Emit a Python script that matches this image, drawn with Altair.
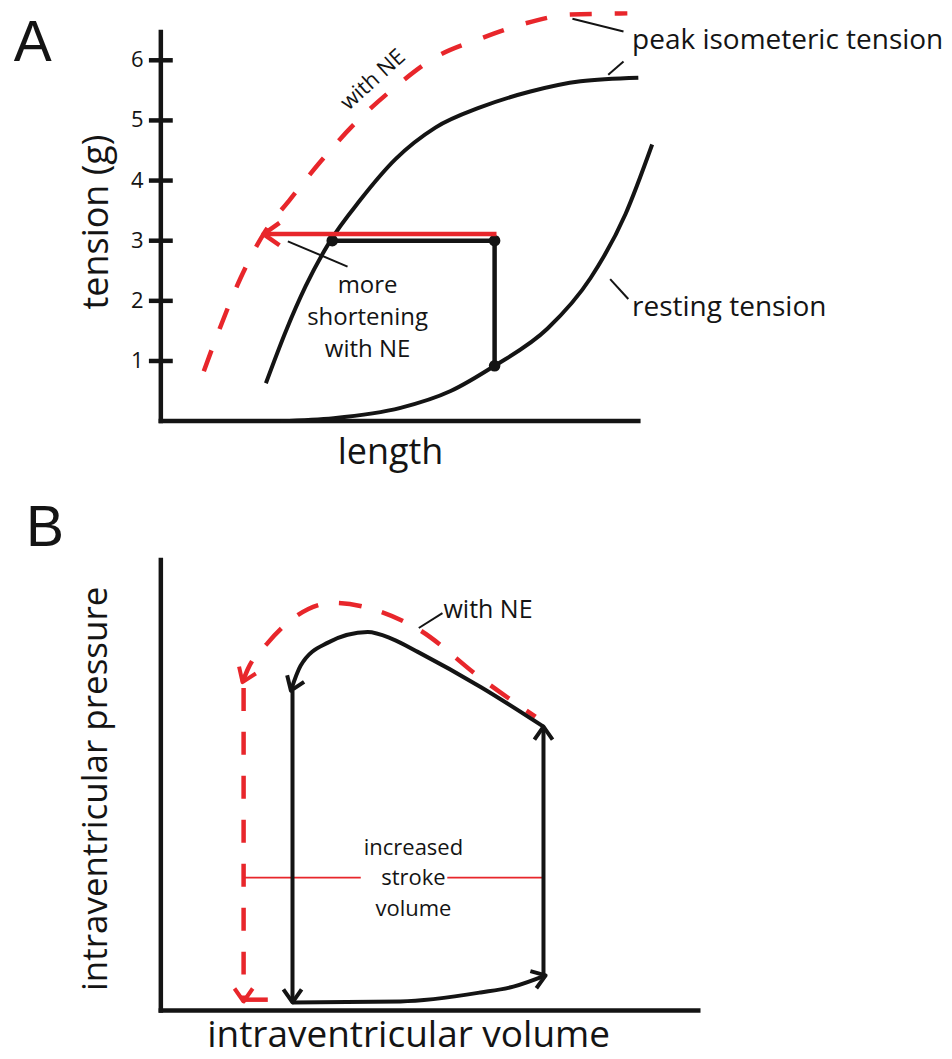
import math
import altair as alt
import pandas as pd

FONT = "Open Sans"
LETTER_FONT = "Liberation Sans"
INK = "#141414"
RED = "#e8262b"

# ---------------- Panel A : length-tension ----------------
A_TICKS = [1, 2, 3, 4, 5, 6]
A_TICK_LABELS = ["1", "2", "3", "4", "5", "6"]

A_ACTIVE_X = [2.20, 2.62, 3.03, 3.52, 4.18, 4.92, 5.75, 6.70, 7.74, 8.79, 10.00]
A_ACTIVE_Y = [0.63, 1.50, 2.24, 2.96, 3.68, 4.36, 4.88, 5.22, 5.48, 5.65, 5.71]

A_NE_X = [0.90, 1.19, 1.67, 2.15, 2.72, 3.35, 4.04, 4.87, 5.71, 6.69, 7.53, 8.58, 9.77]
A_NE_Y = [0.83, 1.45, 2.38, 3.11, 3.70, 4.32, 4.93, 5.53, 6.03, 6.36, 6.59, 6.76, 6.78]

A_REST_X = [2.51, 3.62, 5.02, 6.07, 6.99, 8.10, 9.00, 9.73, 10.29]
A_REST_Y = [0.00, 0.05, 0.22, 0.50, 0.92, 1.54, 2.38, 3.44, 4.60]

A_CONTRACT_X = [3.59, 6.99, 6.99]
A_CONTRACT_Y = [3.00, 3.00, 0.92]

A_SHORT_NE_X = [7.03, 2.15]
A_SHORT_NE_Y = [3.11, 3.11]

A_LEADERS = [  # (x, y, x2, y2)
    (2.66, 2.99, 3.91, 2.57),
    (8.62, 6.69, 9.69, 6.48),
    (9.37, 5.76, 9.69, 5.98),
    (9.41, 2.36, 9.79, 2.03),
]

# ---------------- Panel B : pressure-volume loop ----------------
B_TOP_X = [7.12, 5.95, 4.78, 4.30, 3.85, 3.10, 2.60, 2.42]
B_TOP_Y = [6.30, 7.18, 7.96, 8.25, 8.40, 8.16, 7.65, 7.10]
B_LEFT_X = [2.45, 2.45]
B_LEFT_Y = [7.10, 0.18]
B_BOTTOM_X = [2.45, 4.46, 5.95, 6.56, 7.16]
B_BOTTOM_Y = [0.18, 0.20, 0.40, 0.53, 0.78]
B_RIGHT_X = [7.12, 7.12]
B_RIGHT_Y = [0.78, 6.30]

B_NE_ARC_X = [6.97, 5.95, 4.78, 3.85, 3.22, 2.47, 1.99, 1.62, 1.52]
B_NE_ARC_Y = [6.52, 7.38, 8.47, 8.94, 9.05, 8.71, 8.16, 7.58, 7.29]
B_NE_LEFT_X = [1.54, 1.54]
B_NE_LEFT_Y = [7.16, 0.20]
B_NE_BOTTOM_X = [1.54, 1.99]
B_NE_BOTTOM_Y = [0.24, 0.24]

B_SV_LINES = [(1.54, 2.95, 3.72, 2.95), (5.33, 2.95, 7.12, 2.95)]
B_LEADERS = [(4.80, 8.49, 5.24, 8.82)]

# ---------------- layout (not data) ----------------
A_XDOM, A_YDOM, A_W, A_H = [0, 10], [0, 6.86], 478, 413
A_YAXIS_TOP = 6.47
B_XDOM, B_YDOM, B_W, B_H = [0, 10], [0, 10], 538, 451

CHEVRON = "M -1 -0.7 L 0 0 L -1 0.7"


def enc(xdom, ydom):
    return dict(
        x=alt.X("x:Q", scale=alt.Scale(domain=xdom, nice=False, zero=False), axis=None),
        y=alt.Y("y:Q", scale=alt.Scale(domain=ydom, nice=False, zero=False), axis=None),
    )


def curve(xs, ys, dom, color, width, dash=None, interp="linear", cap="butt"):
    df = pd.DataFrame({"x": xs, "y": ys, "i": list(range(len(xs)))})
    kw = dict(color=color, strokeWidth=width, interpolate=interp, strokeCap=cap, strokeJoin="round")
    if dash:
        kw["strokeDash"] = dash
    # monotone curves are drawn in ascending x; straight polylines keep their own order
    order = alt.Order("x:Q") if interp == "monotone" else alt.Order("i:Q")
    return alt.Chart(df).mark_line(**kw).encode(**enc(*dom), order=order)


def rules(segs, dom, color, width, cap="butt"):
    df = pd.DataFrame(segs, columns=["x", "y", "x2", "y2"])
    return alt.Chart(df).mark_rule(color=color, strokeWidth=width, strokeCap=cap).encode(
        **enc(*dom), x2="x2:Q", y2="y2:Q"
    )


def heads(paths, dom, size_px, color, width):
    xdom, ydom, W, H = dom
    kx = W / (xdom[1] - xdom[0])
    ky = H / (ydom[1] - ydom[0])
    rows = []
    for xs, ys in paths:
        dx = (xs[-1] - xs[-2]) * kx
        dy = -(ys[-1] - ys[-2]) * ky
        rows.append({"x": xs[-1], "y": ys[-1], "a": math.degrees(math.atan2(dy, dx)) % 360})
    df = pd.DataFrame(rows)
    return alt.Chart(df).mark_point(
        shape=CHEVRON, filled=False, stroke=color, strokeWidth=width,
        size=(2 * size_px) ** 2, opacity=1, strokeJoin="round", strokeCap="butt",
    ).encode(**enc(xdom, ydom), angle=alt.Angle("a:Q", scale=None))


def texts(items, dom, size, align="center", baseline="alphabetic", angle=0, color=INK, font=FONT):
    df = pd.DataFrame(items, columns=["x", "y", "t"])
    kw = dict(font=font, fontSize=size, align=align, baseline=baseline, color=color)
    if angle:
        kw["angle"] = angle
    return alt.Chart(df).mark_text(**kw).encode(**enc(*dom), text="t:N")


# ---------------- Panel A ----------------
dA = (A_XDOM, A_YDOM)
panelA = alt.layer(
    rules([(0, 0, 0, A_YAXIS_TOP), (0, 0, A_XDOM[1], 0)], dA, INK, 4.5, cap="square"),
    rules([(-0.25, t, 0.25, t) for t in A_TICKS], dA, INK, 4.5),
    texts([(-0.36, t, l) for t, l in zip(A_TICKS, A_TICK_LABELS)], dA, 22, align="right", baseline="middle"),
    curve(A_REST_X, A_REST_Y, dA, INK, 4, interp="monotone"),
    curve(A_ACTIVE_X, A_ACTIVE_Y, dA, INK, 4, interp="monotone"),
    curve(A_NE_X, A_NE_Y, dA, RED, 4.5, dash=[22, 23], interp="monotone"),
    curve(A_CONTRACT_X, A_CONTRACT_Y, dA, INK, 4.5),
    alt.Chart(pd.DataFrame({"x": A_CONTRACT_X, "y": A_CONTRACT_Y}))
    .mark_circle(size=135, color=INK, opacity=1).encode(**enc(*dA)),
    curve(A_SHORT_NE_X, A_SHORT_NE_Y, dA, RED, 4.5),
    heads([(A_SHORT_NE_X, A_SHORT_NE_Y)], (A_XDOM, A_YDOM, A_W, A_H), 16, RED, 4.5),
    rules(A_LEADERS, dA, INK, 2),
    texts([(-3.08, 5.99, "A")], dA, 57, align="left", font=LETTER_FONT),
    texts([(-1.34, 3.31, "tension (g)")], dA, 36, baseline="middle", angle=270),
    texts([(4.81, -0.71, "length")], dA, 36),
    texts([(4.44, 5.68, "with NE")], dA, 22, baseline="middle", angle=318),
    texts([(9.87, 6.18, "peak isometeric tension"), (9.87, 1.74, "resting tension")], dA, 28, align="left"),
    texts([(4.33, 2.13, "more"), (4.33, 1.59, "shortening"), (4.33, 1.06, "with NE")], dA, 24),
).properties(width=A_W, height=A_H)

# ---------------- Panel B ----------------
dB = (B_XDOM, B_YDOM)
fB = (B_XDOM, B_YDOM, B_W, B_H)
panelB = alt.layer(
    rules([(0, 0, 0, B_YDOM[1]), (0, 0, B_XDOM[1], 0)], dB, INK, 4.5, cap="square"),
    rules(B_SV_LINES, dB, RED, 1.6),
    curve(B_NE_ARC_X, B_NE_ARC_Y, dB, RED, 4.5, dash=[23, 21], interp="monotone"),
    curve(B_NE_LEFT_X, B_NE_LEFT_Y, dB, RED, 4.5, dash=[23, 21]),
    curve(B_NE_BOTTOM_X, B_NE_BOTTOM_Y, dB, RED, 4.5),
    heads([(B_NE_ARC_X, B_NE_ARC_Y), (B_NE_LEFT_X, B_NE_LEFT_Y)], fB, 13, RED, 4),
    curve(B_TOP_X, B_TOP_Y, dB, INK, 4, interp="monotone"),
    curve(B_LEFT_X, B_LEFT_Y, dB, INK, 4),
    curve(B_BOTTOM_X, B_BOTTOM_Y, dB, INK, 4, interp="monotone"),
    curve(B_RIGHT_X, B_RIGHT_Y, dB, INK, 4),
    heads([(B_TOP_X, B_TOP_Y), (B_LEFT_X, B_LEFT_Y), (B_BOTTOM_X, B_BOTTOM_Y), (B_RIGHT_X, B_RIGHT_Y)],
          fB, 13, INK, 4),
    rules(B_LEADERS, dB, INK, 2),
    texts([(-2.51, 10.31, "B")], dB, 57, align="left", font=LETTER_FONT),
    texts([(-1.21, 4.92, "intraventricular pressure")], dB, 35, baseline="middle", angle=270),
    texts([(4.61, -0.82, "intraventricular volume")], dB, 37),
    texts([(5.26, 8.71, "with NE")], dB, 25, align="left"),
    texts([(4.70, 3.61, "increased"), (4.70, 2.95, "stroke"), (4.70, 2.26, "volume")], dB, 22,
          baseline="middle"),
).properties(width=B_W, height=B_H)

chart = (
    alt.vconcat(panelA, panelB, spacing=29)
    .properties(padding={"left": 5, "top": 0, "right": 0, "bottom": 6})
    .configure_view(strokeWidth=0)
)

chart.save("out.html", embed_options={"renderer": "svg", "actions": False})
